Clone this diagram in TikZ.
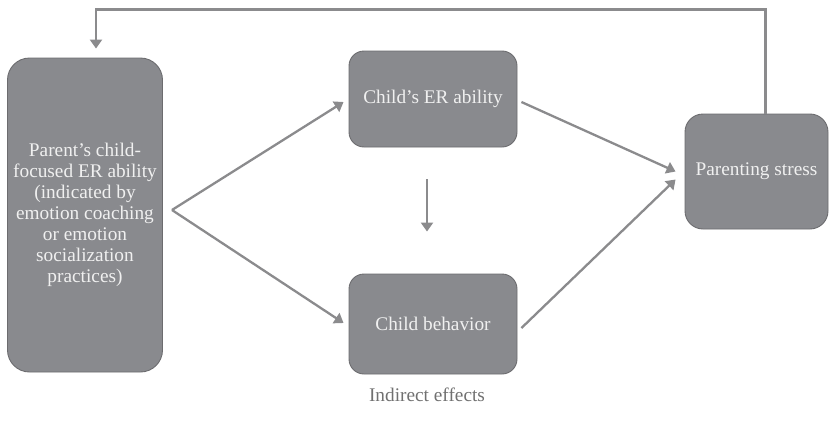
\documentclass[tikz,border=0pt]{standalone}
\usepackage{fontspec}
\setmainfont{Liberation Serif}
\usepackage{tikz}
\usetikzlibrary{positioning,arrows.meta,calc}
\definecolor{boxfill}{RGB}{137,138,142}
\definecolor{boxedge}{RGB}{108,108,111}
\definecolor{linkgray}{RGB}{139,139,141}
\definecolor{notegray}{RGB}{112,112,112}
\tikzset{
  block/.style={draw=boxedge, line width=0.9pt, fill=boxfill, text=white!94!black,
                align=center, inner sep=0pt, font=\fontsize{19.3}{20.9}\selectfont},
  flow/.style={-{Triangle[length=9pt,width=12pt]}, draw=linkgray, line width=2.3pt},
  note/.style={font=\fontsize{19.3}{20.9}\selectfont, text=notegray},
}
\begin{document}
\begin{tikzpicture}[x=1pt, y=-1pt]
\useasboundingbox (0,0) rectangle (834,423);

% boxes
\node[block, rounded corners=22pt, minimum width=155pt, minimum height=314pt] (parent) at (85,215)
  {Parent's child-\\focused ER ability\\(indicated by\\emotion coaching\\or emotion\\socialization\\practices)};
\node[block, rounded corners=15pt, minimum width=168pt, minimum height=96pt] (erabil) at (433,99)
  {Child's ER ability};
\node[block, rounded corners=15pt, minimum width=168pt, minimum height=100pt] (behav) at (433,324)
  {Child behavior};
\node[block, rounded corners=18pt, minimum width=143pt, minimum height=115pt] (stress) at (756.5,171.5)
  {Parenting stress};

% paths through the mediators
\coordinate (fork) at ([xshift=9pt,yshift=5pt]parent.east);
\draw[flow] (fork) -- ([xshift=-5pt,yshift=-3pt]erabil.west);
\draw[flow] (fork) -- ([xshift=-5pt,yshift=1pt]behav.west);
\draw[flow] ([xshift=4pt,yshift=-3pt]erabil.east) -- ([xshift=-9pt,yshift=0pt]stress.west);
\draw[flow] ([xshift=4pt,yshift=-4pt]behav.east) -- ([xshift=-9pt,yshift=-8pt]stress.west);
\draw[flow] ([xshift=-6pt,yshift=-32pt]erabil.south) -- ([xshift=-6pt,yshift=42pt]behav.north);

% feedback from stress back to the parent
\draw[flow] ([xshift=9pt]stress.north) -- ++(0,-104) -| ([xshift=11pt,yshift=9pt]parent.north);

% caption under the diagram
\node[note, anchor=base] (caption) at (427,401) {Indirect effects};
\end{tikzpicture}
\end{document}
